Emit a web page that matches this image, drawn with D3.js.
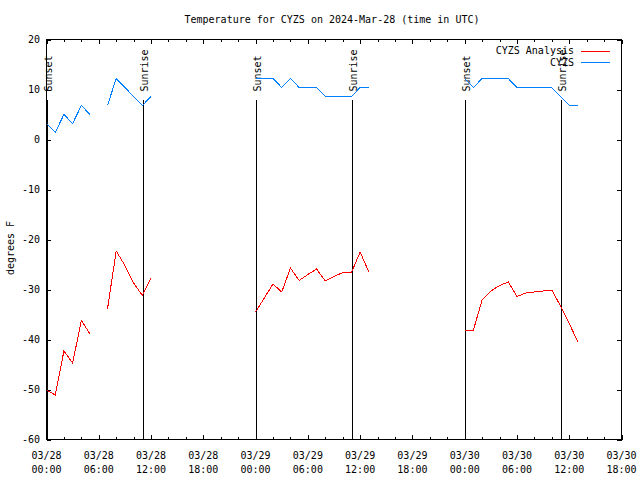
<!DOCTYPE html>
<html>
<head>
<meta charset="utf-8">
<script src="https://cdn.jsdelivr.net/npm/d3@7"></script>
<style>
  html, body { margin: 0; padding: 0; background: #fff; }
  svg { display: block; }
  text { font-family: "DejaVu Sans Mono", "Liberation Mono", monospace; font-size: 10px; fill: #000; }
</style>
</head>
<body>
<svg id="chart" width="640" height="480"></svg>
<script>
// ---- Data (hours after 2024-03-28 00:00 UTC) ----
const obsHours = [0,1,2,3,4,5, 7,8,9,10,11,12,
  24,25,26,27,28,29,30,31,32,33,34,35,36,37,
  48,49,50,51,52,53,54,55,56,57,58,59,60,61];
const obsTemps = [3.2,1.4,5.0,3.2,6.8,5.0, 6.8,12.2,10.4,8.6,6.8,8.6,
  12.2,12.2,12.2,10.4,12.2,10.4,10.4,10.4,8.6,8.6,8.6,8.6,10.4,10.4,
  12.2,10.4,12.2,12.2,12.2,12.2,10.4,10.4,10.4,10.4,10.4,8.6,6.8,6.8];
const anaHours = obsHours;
const anaTemps = [-50.1,-51.1,-42.3,-44.7,-36.2,-38.9, -33.9,-22.3,-25.2,-28.7,-31.2,-27.7,
  -34.5,-31.7,-28.9,-30.5,-25.7,-28.2,-27.0,-25.9,-28.3,-27.4,-26.6,-26.6,-22.5,-26.5,
  -38.1,-38.1,-32.1,-30.3,-29.2,-28.5,-31.4,-30.7,-30.5,-30.3,-30.1,-33.3,-36.8,-40.5];
const sunsetHours = [0.05, 24.08, 48.08];
const sunriseHours = [11.08, 35.1, 59.1];
const yTicks = [-60,-50,-40,-30,-20,-10,0,10,20];
const seriesNames = ["CYZS Analysis", "CYZS"];
const seriesColors = ["#ff0000", "#0080ff"];
const titleText = "Temperature for CYZS on 2024-Mar-28 (time in UTC)";
const yLabel = "degrees F";

// ---- Setup ----
const t0 = Date.UTC(2024, 2, 28, 0, 0);
const toDate = h => new Date(t0 + h * 3600e3);
const svg = d3.select("#chart");
const L = 46.5, R = 621.5, T = 39.5, B = 439.5;
const x = d3.scaleUtc().domain([toDate(0), toDate(66)]).range([L, R]);
const y = d3.scaleLinear().domain([-60, 20]).range([B, T]);
const FS = "10px";

// Title
svg.append("text").attr("x", 332).attr("y", 23).attr("text-anchor", "middle")
  .style("font-size", FS).text(titleText);

// Y label
svg.append("text").attr("transform", "translate(14,248) rotate(-90)")
  .attr("text-anchor", "middle").style("font-size", FS).text(yLabel);

// Axes ticks (inward) using d3 axes
const minorTicks = d3.utcHour.every(2).range(toDate(0), toDate(66.1));
const majorTicks = d3.utcHour.every(6).range(toDate(0), toDate(66.1));
function styleAxis(g) {
  g.select(".domain").remove();
  g.selectAll("line").attr("stroke", "#000").attr("shape-rendering", "crispEdges");
  g.selectAll("text").remove();
}
svg.append("g").attr("transform", `translate(0,${B})`)
  .call(d3.axisBottom(x).tickValues(minorTicks).tickSize(-2.5)).call(styleAxis);
svg.append("g").attr("transform", `translate(0,${B})`)
  .call(d3.axisBottom(x).tickValues(majorTicks).tickSize(-4.5)).call(styleAxis);
svg.append("g").attr("transform", `translate(0,${T})`)
  .call(d3.axisTop(x).tickValues(minorTicks).tickSize(-2.5)).call(styleAxis);
svg.append("g").attr("transform", `translate(0,${T})`)
  .call(d3.axisTop(x).tickValues(majorTicks).tickSize(-4.5)).call(styleAxis);
svg.append("g").attr("transform", `translate(${L},0)`)
  .call(d3.axisLeft(y).tickValues(yTicks).tickSize(-4.5)).call(styleAxis);
svg.append("g").attr("transform", `translate(${R},0)`)
  .call(d3.axisRight(y).tickValues(yTicks).tickSize(-4.5)).call(styleAxis);

// X tick labels (two lines)
const fmtD = d3.utcFormat("%m/%d"), fmtT = d3.utcFormat("%H:%M");
majorTicks.forEach(d => {
  const t = svg.append("text").attr("x", x(d)).attr("text-anchor", "middle").style("font-size", FS);
  t.append("tspan").attr("x", x(d)).attr("y", 458.5).text(fmtD(d));
  t.append("tspan").attr("x", x(d)).attr("y", 472.5).text(fmtT(d));
});
// Y tick labels
yTicks.forEach(v => {
  svg.append("text").attr("x", 40).attr("y", y(v) + 3.5).attr("text-anchor", "end")
    .style("font-size", FS).text(v);
});

// Sunset / sunrise lines and labels
function marker(h, label) {
  const xp = Math.round(x(toDate(h))) + 0.5;
  svg.append("line").attr("x1", xp).attr("x2", xp).attr("y1", y(8)).attr("y2", B)
    .attr("stroke", "#000").attr("stroke-width", 1).attr("shape-rendering", "crispEdges");
  svg.append("text").attr("transform", `translate(${xp + 0.5},${y(9.6)}) rotate(-90)`)
    .attr("dy", "0.36em").style("font-size", FS).text(label);
}
sunsetHours.forEach(h => marker(h, "Sunset"));
sunriseHours.forEach(h => marker(h, "Sunrise"));

// Series lines, broken where observations are missing
function segments(hours, vals) {
  const segs = []; let cur = [];
  hours.forEach((h, i) => {
    if (cur.length && h - hours[i - 1] > 1.5) { segs.push(cur); cur = []; }
    cur.push([h, vals[i]]);
  });
  if (cur.length) segs.push(cur);
  return segs;
}
const line = d3.line().x(d => x(toDate(d[0]))).y(d => y(d[1]));
[[anaHours, anaTemps, seriesColors[0]], [obsHours, obsTemps, seriesColors[1]]].forEach(([hs, vs, c]) => {
  segments(hs, vs).forEach(seg => {
    svg.append("path").attr("d", line(seg)).attr("fill", "none").attr("stroke", c)
      .attr("stroke-width", 1).attr("shape-rendering", "crispEdges");
  });
});

// Border
svg.append("rect").attr("x", L).attr("y", T).attr("width", R - L).attr("height", B - T)
  .attr("fill", "none").attr("stroke", "#000").attr("shape-rendering", "crispEdges");

// Legend
seriesNames.forEach((n, i) => {
  const ly = 50.5 + i * 11.5;
  svg.append("text").attr("x", 574).attr("y", ly + 3.5).attr("text-anchor", "end")
    .style("font-size", FS).text(n);
  svg.append("line").attr("x1", 581).attr("x2", 610).attr("y1", Math.round(ly) + 0.5).attr("y2", Math.round(ly) + 0.5)
    .attr("stroke", seriesColors[i]).attr("stroke-width", 1).attr("shape-rendering", "crispEdges");
});
</script>
</body>
</html>
